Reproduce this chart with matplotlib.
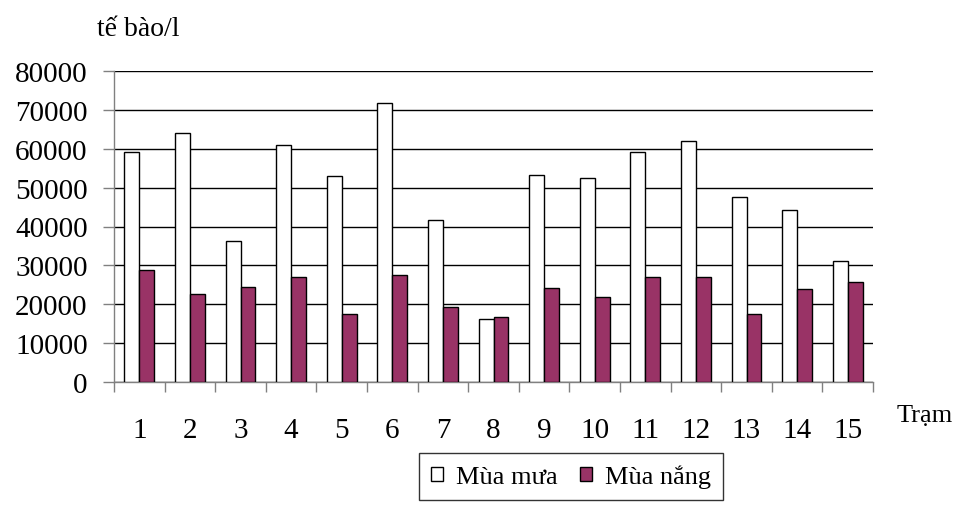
import numpy as np
import matplotlib.pyplot as plt

plt.rcParams['font.family'] = 'Liberation Serif'

stations = [str(i) for i in range(1, 16)]
mua_mua = [59200, 64100, 36300, 61000, 53000, 71800, 41800, 16300,
           53300, 52600, 59200, 62000, 47500, 44200, 31100]
mua_nang = [28800, 22600, 24400, 27000, 17400, 27400, 19200, 16700,
            24100, 21900, 27000, 27000, 17400, 23800, 25600]

fig = plt.figure(figsize=(9.56, 5.10), dpi=100)
ax = fig.add_axes([114 / 956, 1 - 383 / 510, 759 / 956, 311 / 510])

x = np.arange(len(stations))
w = 0.296
ax.bar(x - w / 2, mua_mua, w, color='white', edgecolor='black', linewidth=1.0,
       label='Mùa mưa', zorder=3)
ax.bar(x + w / 2, mua_nang, w, color='#993366', edgecolor='black', linewidth=1.0,
       label='Mùa nắng', zorder=3)

ax.set_xlim(-0.5, len(stations) - 0.5)
ax.set_ylim(0, 80000)
ax.set_yticks(np.arange(0, 80001, 10000))
ax.yaxis.grid(True, color='black', linewidth=1.0, zorder=0)
ax.set_axisbelow(True)

# category boundaries as ticks, labels centred between them
ax.set_xticks(np.arange(-0.5, len(stations), 1.0))
ax.set_xticklabels([])
ax.set_xticks(x, minor=True)
ax.set_xticklabels(stations, minor=True)
ax.tick_params(axis='x', which='major', length=7, width=1, color='#808080', direction='out')
ax.tick_params(axis='x', which='minor', length=0, pad=25, labelsize=21)
ax.tick_params(axis='y', length=8, width=1, color='#808080', pad=11, labelsize=21)

for s in ['top', 'right']:
    ax.spines[s].set_visible(False)
for s in ['left', 'bottom']:
    ax.spines[s].set_color('#808080')
    ax.spines[s].set_linewidth(1.0)

fig.text(97 / 956, 1 - 36 / 510, 'tế bào/l', fontsize=20, va='baseline', ha='left')
fig.text(897 / 956, 1 - 422 / 510, 'Trạm', fontsize=19, va='baseline', ha='left')

leg = fig.legend(loc='upper left', bbox_to_anchor=(419 / 956, 1 - 454 / 510),
                 ncol=2, fontsize=19, frameon=True, fancybox=False,
                 edgecolor='black', handlelength=0.45, handleheight=0.45,
                 handletextpad=0.5, columnspacing=0.85, borderpad=0.45,
                 borderaxespad=0)
leg.get_frame().set_linewidth(1.0)

fig.savefig('out.png', dpi=100)
